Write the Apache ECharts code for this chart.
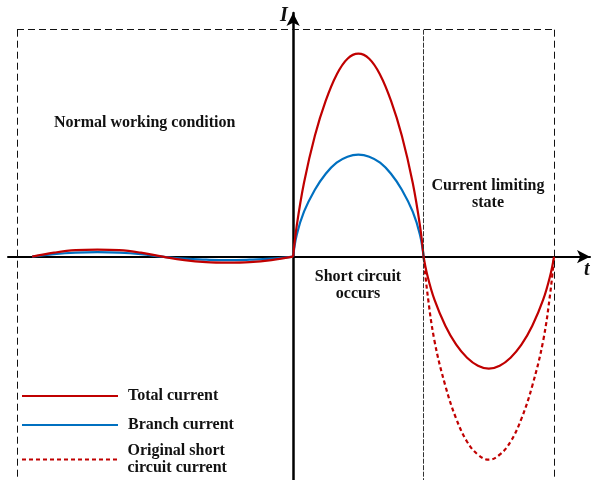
<!DOCTYPE html>
<html>
<head>
<meta charset="utf-8">
<script src="https://cdn.jsdelivr.net/npm/echarts@6/dist/echarts.min.js"></script>
<style>
html, body { margin: 0; padding: 0; background: #fff; }
#chart { width: 593px; height: 480px; }
</style>
</head>
<body>
<div id="chart"></div>
<script>
// time in electrical degrees, 0 = instant the short circuit occurs
var tNormal = [-360, -330, -300, -270, -240, -210, -180, -150, -120, -90, -60, -30, 0];
var totalNormal = [0, 0.04, 0.065, 0.07, 0.065, 0.04, 0, -0.035, -0.055, -0.06, -0.055, -0.035, 0];
var branchNormal = [0, 0.025, 0.04, 0.045, 0.04, 0.025, 0, -0.02, -0.03, -0.035, -0.03, -0.02, 0];

var tFault = [0, 5, 15, 30, 45, 60, 75, 90, 105, 120, 135, 150, 165, 175, 180];
var totalFault = [0, 0.31, 0.74, 1.21, 1.56, 1.82, 1.98, 2.03, 1.98, 1.82, 1.56, 1.21, 0.74, 0.31, 0];
var branchFault = [0, 0.22, 0.45, 0.67, 0.83, 0.94, 1.0, 1.02, 1.0, 0.94, 0.83, 0.67, 0.45, 0.22, 0];

var tLimit = [180, 185, 195, 210, 225, 240, 255, 270, 285, 300, 315, 330, 345, 355, 360];
var totalLimit = [0, -0.18, -0.43, -0.69, -0.88, -1.01, -1.09, -1.12, -1.09, -1.01, -0.88, -0.69, -0.43, -0.18, 0];
var originalLimit = [0, -0.35, -0.84, -1.29, -1.62, -1.85, -1.98, -2.03, -1.98, -1.85, -1.62, -1.29, -0.84, -0.35, 0];

var seriesNames = ['Total current', 'Branch current', 'Original short circuit current'];

// dashed frames around the three operating stages
var frameLeft = -381, frameMid = 180, frameRight = 360, frameTop = 2.27;

var RED = '#C00000', BLUE = '#0070C0';
var FONT = '"Liberation Serif", "Times New Roman", serif';

// legend keys drawn as plain strokes (solid or dotted)
var SOLID_KEY = 'path://M0,0h96v2.2h-96z';
var DOTTED_KEY = 'path://M0,0h4v2.2h-4zM7,0h4v2.2h-4zM14,0h4v2.2h-4zM21,0h4v2.2h-4zM28,0h4v2.2h-4zM35,0h4v2.2h-4zM42,0h4v2.2h-4zM49,0h4v2.2h-4zM56,0h4v2.2h-4zM63,0h4v2.2h-4zM70,0h4v2.2h-4zM77,0h4v2.2h-4zM84,0h4v2.2h-4zM91,0h4v2.2h-4z';

function pairs(xs, ys) {
	var out = [];
	for (var i = 0; i < xs.length; i++) out.push([xs[i], ys[i]]);
	return out;
}

function curve(name, color, xs, ys, dashed) {
	return {
		name: name,
		type: 'line',
		data: pairs(xs, ys),
		smooth: 0.4,
		symbol: 'none',
		silent: true,
		z: color == RED ? 4 : 3,
		lineStyle: { color: color, width: 2.2, type: dashed ? [4, 3] : 'solid' },
		itemStyle: { color: color }
	};
}

function legendBox(items, top) {
	return {
		data: items,
		orient: 'vertical',
		left: 17,
		top: top,
		itemWidth: 96,
		itemHeight: 2.2,
		itemGap: 12,
		selectedMode: false,
		formatter: function(name) {
			return name == seriesNames[2] ? 'Original short\ncircuit current' : name;
		},
		textStyle: { fontFamily: FONT, fontWeight: 'bold', fontSize: 16, lineHeight: 17, color: '#111', padding: [0, 0, 0, 5] }
	};
}

var yMin = -2.233, yMax = 2.437;

var frame = {
	type: 'line',
	data: [],
	silent: true,
	z: 1,
	markLine: {
		symbol: 'none',
		silent: true,
		label: { show: false },
		lineStyle: { color: '#111', width: 1, type: [7, 4] },
		data: [
			[{ coord: [frameLeft, frameTop] }, { coord: [frameRight, frameTop] }],
			[{ coord: [frameLeft, frameTop] }, { coord: [frameLeft, yMin] }],
			[{ coord: [frameRight, frameTop] }, { coord: [frameRight, yMin] }],
			[{ coord: [frameMid, frameTop] }, { coord: [frameMid, yMin], lineStyle: { type: [5, 1.5], color: '#333' } }]
		]
	}
};

var chart = echarts.init(document.getElementById('chart'));
chart.setOption({
	animation: false,
	backgroundColor: '#fff',
	grid: { left: 8, right: 3, top: 13, bottom: 0 },
	xAxis: {
		type: 'value',
		min: -393.4,
		max: 409.6,
		axisLine: { onZero: true, symbol: ['none', 'arrow'], symbolSize: [10, 13], lineStyle: { color: '#000', width: 2 } },
		axisTick: { show: false },
		axisLabel: { show: false },
		splitLine: { show: false }
	},
	yAxis: {
		type: 'value',
		min: yMin,
		max: yMax,
		axisLine: { onZero: true, symbol: ['none', 'arrow'], symbolSize: [10, 13], lineStyle: { color: '#000', width: 2.5 } },
		axisTick: { show: false },
		axisLabel: { show: false },
		splitLine: { show: false }
	},
	legend: [
		legendBox([
			{ name: seriesNames[0], icon: SOLID_KEY },
			{ name: seriesNames[1], icon: SOLID_KEY }
		], 382.5),
		legendBox([{ name: seriesNames[2], icon: DOTTED_KEY }], 437.5)
	],
	graphic: [
		{ type: 'text', left: 54, top: 115, style: { text: 'Normal working condition', font: 'bold 16px ' + FONT, fill: '#111' } },
		{ type: 'text', x: 488, y: 177.5, style: { text: 'Current limiting\nstate', font: 'bold 16px ' + FONT, fill: '#111', align: 'center', lineHeight: 17 } },
		{ type: 'text', x: 358, y: 268, style: { text: 'Short circuit\noccurs', font: 'bold 16px ' + FONT, fill: '#111', align: 'center', lineHeight: 17 } },
		{ type: 'text', x: 280, y: 6, style: { text: 'I', font: 'italic bold 20px ' + FONT, fill: '#111' } },
		{ type: 'text', x: 584, y: 260, style: { text: 't', font: 'italic bold 20px ' + FONT, fill: '#111' } }
	],
	series: [
		frame,
		curve(seriesNames[1], BLUE, tNormal, branchNormal),
		curve(seriesNames[0], RED, tNormal, totalNormal),
		curve(seriesNames[1], BLUE, tFault, branchFault),
		curve(seriesNames[0], RED, tFault, totalFault),
		curve(seriesNames[0], RED, tLimit, totalLimit),
		curve(seriesNames[2], RED, tLimit, originalLimit, true)
	]
});
</script>
</body>
</html>
